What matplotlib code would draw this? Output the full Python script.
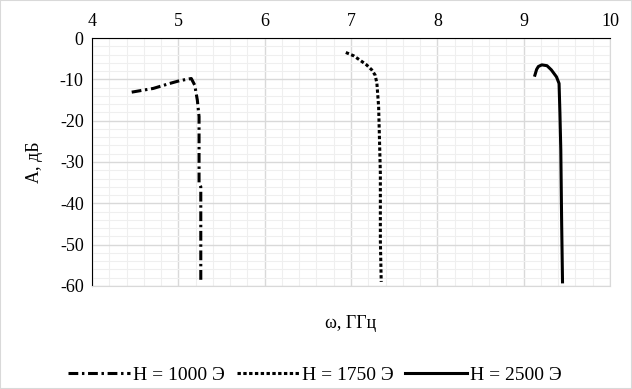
import numpy as np
import matplotlib
matplotlib.use('Agg')
import matplotlib.pyplot as plt
from matplotlib.ticker import MultipleLocator
from matplotlib.patches import Rectangle

plt.rcParams['font.family'] = ['Liberation Serif', 'DejaVu Serif']
plt.rcParams['axes.unicode_minus'] = False

# H = 1000 Э
w1 = [4.46, 4.71, 4.90, 5.02, 5.10, 5.15, 5.19, 5.22, 5.24, 5.24, 5.26, 5.26]
a1 = [-13.1, -12.2, -11.0, -10.3, -10.0, -9.8, -11.4, -15.0, -19.0, -35.0, -36.0, -58.6]
# H = 1750 Э
w2 = [6.94, 7.03, 7.10, 7.18, 7.24, 7.28, 7.30, 7.32, 7.34, 7.34, 7.35]
a2 = [-3.5, -4.3, -5.3, -6.5, -7.7, -9.0, -11.0, -16.6, -32.7, -48.9, -59.0]
# H = 2500 Э
w3 = [9.13, 9.15, 9.17, 9.21, 9.27, 9.32, 9.38, 9.41, 9.42, 9.43, 9.44, 9.45]
a3 = [-9.0, -7.6, -6.9, -6.5, -6.7, -7.7, -9.4, -11.0, -18.2, -27.0, -44.8, -59.0]

labels = ['H = 1000 Э', 'H = 1750 Э', 'H = 2500 Э']

fig = plt.figure(figsize=(6.32, 3.89), dpi=100)
ax = fig.add_axes([92/632, 1-286/389, 518/632, 248/389])

ax.plot(w1, a1, color='black', lw=2.2, dashes=(3.2, 1.2, 0.8, 1.2), label=labels[0])
ax.plot(w2, a2, color='black', lw=2.2, dashes=(1.1, 0.8), label=labels[1])
ax.plot(w3, a3, color='black', lw=2.2, label=labels[2])

ax.set_xlim(4, 10)
ax.set_ylim(-60, 0)
ax.xaxis.set_major_locator(MultipleLocator(1))
ax.xaxis.set_minor_locator(MultipleLocator(0.2))
ax.yaxis.set_major_locator(MultipleLocator(10))
ax.yaxis.set_minor_locator(MultipleLocator(2))
ax.xaxis.tick_top()
ax.tick_params(which='both', length=0, labelsize=13, pad=6)
ax.grid(which='major', color='#d9d9d9', lw=1)
ax.grid(which='minor', color='#efefef', lw=0.8)
ax.set_axisbelow(True)

ax.spines['top'].set_color('black')
ax.spines['left'].set_color('black')
ax.spines['right'].set_color('#d9d9d9')
ax.spines['bottom'].set_color('#d9d9d9')

ax.set_ylabel('А, дБ', fontsize=13, labelpad=12)
fig.text(351/632, 1-323/389, 'ω, ГГц', fontsize=13, ha='center', va='center')

fig.legend(loc='center', bbox_to_anchor=(315/632, 1-375/389), ncol=3, frameon=False,
           fontsize=14, handlelength=3.2, handletextpad=0.15, columnspacing=0.6)

fig.patches.append(Rectangle((0, 0), 1, 1, transform=fig.transFigure, fill=False,
                             edgecolor='#d9d9d9', lw=1.5))

fig.savefig('out.png', dpi=100)
